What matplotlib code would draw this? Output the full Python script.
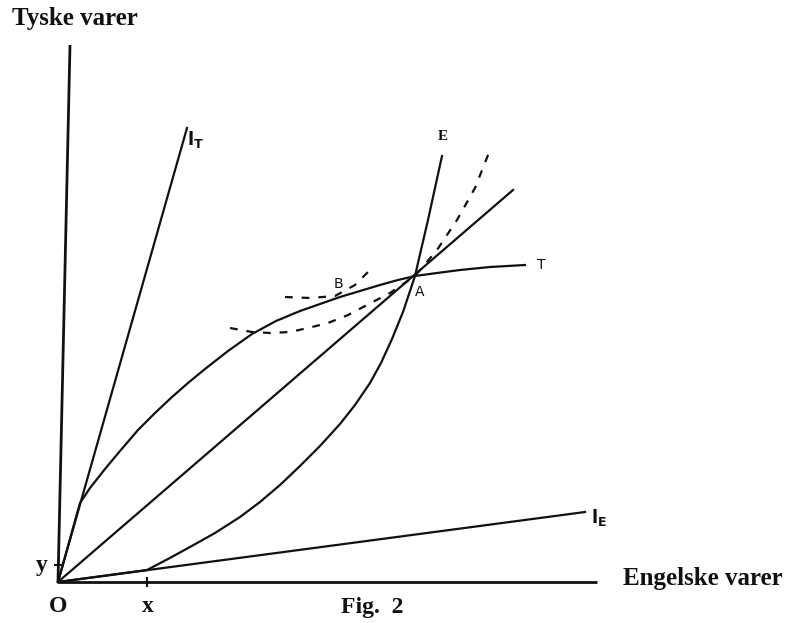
import numpy as np
import matplotlib
matplotlib.use("Agg")
import matplotlib.pyplot as plt

# Coordinates measured from the origin O (x to the right, y upwards)
axis_x = [(0, 0), (539, 0)]
axis_y = [(0, 0), (12, 537)]

ray_lT = [(0, 0), (129, 454)]
ray_lE = [(0, 0), (527, 70)]
ray_OA = [(0, 0), (455, 392)]

# Germany's offer curve (T)
T_x = [0, 22, 32, 47, 62, 80, 97, 114, 130, 147, 170, 194, 218, 242, 262,
       282, 302, 322, 340, 357, 379, 402, 432, 467]
T_y = [0, 79, 94, 113, 131, 152, 169, 185, 199, 213, 231, 248, 261, 271, 278,
       285, 291, 297, 302, 306, 309, 312, 315, 317]

# England's offer curve (E)
E_x = [0, 89, 110, 132, 157, 182, 202, 222, 242, 262, 282, 297, 312, 323,
       334, 345, 357, 363, 370, 377, 384]
E_y = [0, 12, 23, 35, 49, 65, 80, 97, 116, 136, 158, 177, 199, 219,
       243, 270, 306, 332, 362, 394, 426]

# indifference curves (dashed)
ind_B_x = [227, 252, 277, 297, 314]
ind_B_y = [285, 284, 286, 297, 314]

ind_A_x = [172, 194, 212, 232, 250, 270, 290, 309, 332, 357, 379, 399, 417, 432]
ind_A_y = [254, 250, 249, 250, 254, 259, 267, 277, 289, 306, 332, 362, 394, 432]

tick_x = 89
tick_y = 17

fig = plt.figure(figsize=(7.9, 6.23), dpi=100)
ax = fig.add_axes([0, 0, 1, 1])
ax.set_xlim(-58, 732)
ax.set_ylim(-41, 582)
ax.axis("off")

ink = "#111111"
serif = "Liberation Serif"

for seg in (axis_x, axis_y):
    xs, ys = zip(*seg)
    ax.plot(xs, ys, color=ink, lw=2.0, solid_capstyle="butt")

for seg in (ray_lT, ray_lE, ray_OA):
    xs, ys = zip(*seg)
    ax.plot(xs, ys, color=ink, lw=1.6)

ax.plot(T_x, T_y, color=ink, lw=1.6, solid_joinstyle="round")
ax.plot(E_x, E_y, color=ink, lw=1.6, solid_joinstyle="round")

ax.plot(ind_B_x, ind_B_y, color=ink, lw=1.6, dashes=(3.5, 4))
ax.plot(ind_A_x, ind_A_y, color=ink, lw=1.6, dashes=(3.5, 4))

# small ticks at x and y
ax.plot([tick_x], [0], marker="|", ms=7, mew=1.5, color=ink)
ax.plot([0], [tick_y], marker="_", ms=6, mew=1.5, color=ink)

# labels
ax.text(-46, 564, "Tyske varer", fontsize=18, family=serif, weight="bold",
        ha="left", va="center", color=ink)
ax.text(565, 4, "Engelske varer", fontsize=18, family=serif, weight="bold",
        ha="left", va="center", color=ink)
ax.text(0, -24, "O", fontsize=17, family=serif, weight="bold", ha="center", va="center", color=ink)
ax.text(90, -25, "x", fontsize=17, family=serif, weight="bold", ha="center", va="center", color=ink)
ax.text(-16, 16, "y", fontsize=17, family=serif, weight="bold", ha="center", va="center", color=ink)
ax.text(314, -25, "Fig.  2", fontsize=17, family=serif, weight="bold", ha="center", va="center", color=ink)

ax.text(137, 443, r"$\mathbf{l}_{\mathbf{T}}$", fontsize=13, ha="center", va="center", color=ink)
ax.text(541, 65, r"$\mathbf{l}_{\mathbf{E}}$", fontsize=13, ha="center", va="center", color=ink)
ax.text(385, 446, "E", fontsize=11, family=serif, weight="bold", ha="center", va="center", color=ink)
ax.text(362, 290, "A", fontsize=10, family="DejaVu Sans", ha="center", va="center", color=ink)
ax.text(280, 298, "B", fontsize=10, family="DejaVu Sans", ha="center", va="center", color=ink)
ax.text(483, 317, "T", fontsize=10, family="DejaVu Sans", ha="center", va="center", color=ink)

fig.savefig("out.png", dpi=100, facecolor="white")
